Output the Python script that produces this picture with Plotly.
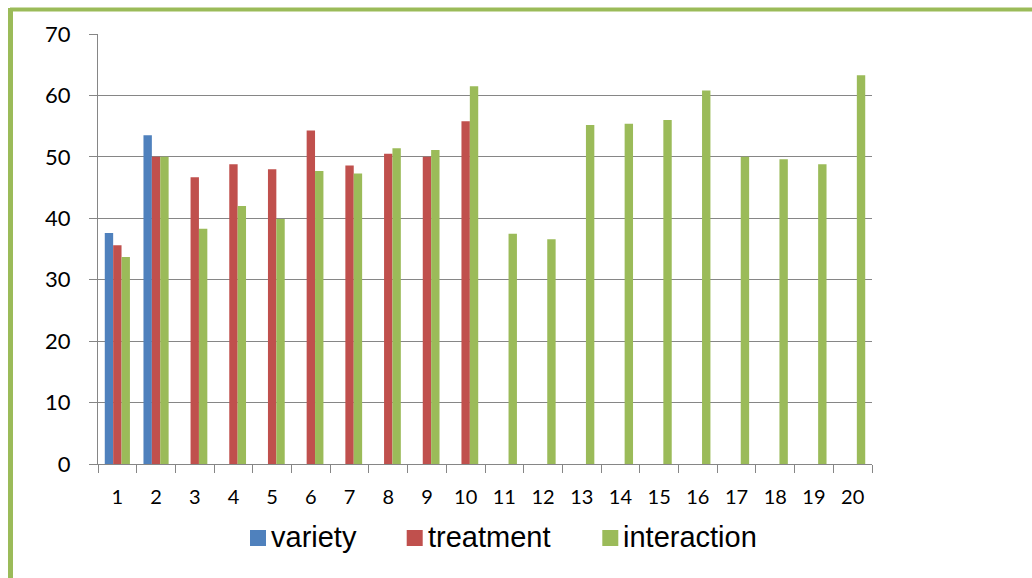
import plotly.graph_objects as go

# Sample numbers shown on the x axis
samples = [str(i) for i in range(1, 21)]

# Series values (None where a series has no entry for that sample)
variety = [37.6, 53.5] + [None] * 18
treatment = [35.6, 50.0, 46.7, 48.8, 48.0, 54.3, 48.6, 50.5, 50.0, 55.8] + [None] * 10
interaction = [33.7, 50.0, 38.3, 42.0, 39.9, 47.7, 47.3, 51.4, 51.1, 61.5,
               37.5, 36.6, 55.2, 55.4, 56.0, 60.8, 50.0, 49.6, 48.8, 63.3]

series_names = ["variety", "treatment", "interaction"]
series_values = [variety, treatment, interaction]
series_colors = ["#4F81BD", "#C0504D", "#9BBB59"]

y_ticks = [0, 10, 20, 30, 40, 50, 60, 70]

W, H = 1032, 578
ML, MR, MT, MB = 98, 160, 34, 114
PW, PH = W - ML - MR, H - MT - MB
grid_grey = "#868686"


def px_to_paper_x(px):
    return (px - ML) / PW


def px_to_paper_y(py):
    return (H - MB - py) / PH


fig = go.Figure()
for name, vals, color in zip(series_names, series_values, series_colors):
    fig.add_trace(go.Bar(x=samples, y=vals, name=name, showlegend=False,
                         marker=dict(color=color, line=dict(width=0))))

# Legend row below the axis: colour key squares and series names
key_left = [250, 406.7, 602.3]
key_size = 16
key_top = 530
shapes = []
annotations = []
for name, color, kx in zip(series_names, series_colors, key_left):
    shapes.append(dict(type="rect", xref="paper", yref="paper",
                       x0=px_to_paper_x(kx), x1=px_to_paper_x(kx + key_size),
                       y0=px_to_paper_y(key_top + key_size), y1=px_to_paper_y(key_top),
                       fillcolor=color, line=dict(width=0)))
    annotations.append(dict(text=name, xref="paper", yref="paper",
                            x=px_to_paper_x(kx + key_size + 3), xanchor="left",
                            y=px_to_paper_y(key_top + key_size / 2 - 1), yanchor="middle",
                            showarrow=False,
                            font=dict(family="Liberation Sans", size=29, color="black")))

# Green frame around the chart (top and left edges)
shapes.append(dict(type="line", xref="paper", yref="paper",
                   x0=px_to_paper_x(10), x1=px_to_paper_x(W + 10),
                   y0=px_to_paper_y(9.5), y1=px_to_paper_y(9.5),
                   line=dict(color="#9BBB59", width=4)))
shapes.append(dict(type="line", xref="paper", yref="paper",
                   x0=px_to_paper_x(10.5), x1=px_to_paper_x(10.5),
                   y0=px_to_paper_y(8), y1=px_to_paper_y(H + 10),
                   line=dict(color="#9BBB59", width=5)))

fig.update_layout(
    width=W, height=H,
    margin=dict(l=ML, r=MR, t=MT, b=MB),
    paper_bgcolor="white", plot_bgcolor="white",
    barmode="group", bargap=0.35, bargroupgap=0,
    font=dict(family="Lato", size=21, color="black"),
    showlegend=False,
    xaxis=dict(type="category", tickson="boundaries", ticks="outside",
               ticklen=8, tickcolor=grid_grey, tickwidth=1.3,
               showline=True, linecolor=grid_grey, linewidth=1.3,
               showgrid=False, ticklabelstandoff=15,
               tickfont=dict(family="Lato", size=20, color="black")),
    yaxis=dict(range=[0, 70], tickvals=y_ticks, ticks="outside",
               ticklen=8, tickcolor=grid_grey, tickwidth=1.3,
               showline=True, linecolor=grid_grey, linewidth=1.3,
               showgrid=True, gridcolor=grid_grey, gridwidth=1.3,
               zeroline=False, ticklabelstandoff=14,
               tickfont=dict(family="Lato", size=22, color="black")),
    shapes=shapes,
    annotations=annotations,
)

fig.write_html("out.html")
